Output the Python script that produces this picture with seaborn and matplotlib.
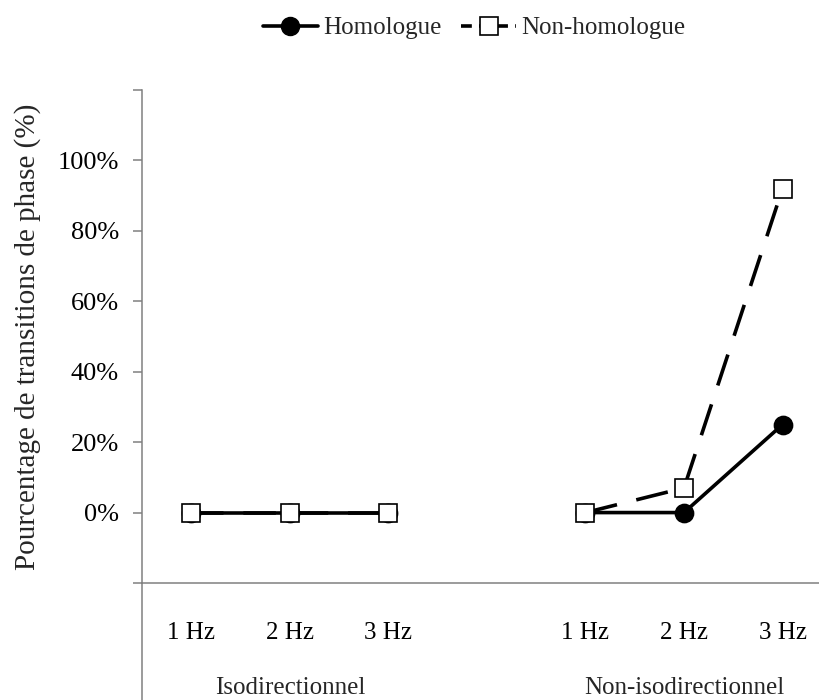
import matplotlib
matplotlib.use("Agg")
from matplotlib import pyplot as plt
from matplotlib.lines import Line2D
import seaborn as sns
import pandas as pd
import numpy as np

# values (percent)
conditions = ["Isodirectionnel", "Non-isodirectionnel"]
freqs = ["1 Hz", "2 Hz", "3 Hz"]
homologue = {"Isodirectionnel": [0, 0, 0], "Non-isodirectionnel": [0, 0, 25]}
non_homologue = {"Isodirectionnel": [0, 0, 0], "Non-isodirectionnel": [0, 7, 92]}

# x positions: a gap of one slot between the two conditions
xpos = {"Isodirectionnel": [0, 1, 2], "Non-isodirectionnel": [4, 5, 6]}

rows = []
for series, vals in [("Homologue", homologue), ("Non-homologue", non_homologue)]:
    for cond in conditions:
        for i, f in enumerate(freqs):
            rows.append({"series": series, "condition": cond, "freq": f,
                         "x": xpos[cond][i], "value": vals[cond][i]})
df = pd.DataFrame(rows)

sns.set_theme(style="white")
plt.rcParams["font.family"] = ["Liberation Serif", "DejaVu Serif"]
FS = 18
GREY = "#808080"

fig = plt.figure(figsize=(8.2, 7), dpi=100)
ax = fig.add_axes([142 / 820, 1 - 583 / 700, 1 - 142 / 820, (583 - 90) / 700])

styles = {"Homologue": dict(marker="o", linestyle="-", mfc="black", zorder=3),
          "Non-homologue": dict(marker="s", linestyle=(0, (9, 5.5)), mfc="white", zorder=4)}

for series in ["Homologue", "Non-homologue"]:
    st = styles[series]
    for cond in conditions:
        sub = df[(df.series == series) & (df.condition == cond)]
        sns.lineplot(data=sub, x="x", y="value", ax=ax, color="black", linewidth=2.6,
                     linestyle=st["linestyle"], marker=st["marker"], markersize=13,
                     markerfacecolor=st["mfc"], markeredgecolor="black",
                     markeredgewidth=1.2, zorder=st["zorder"], legend=False)

ax.set_xlim(-0.5, 6.38)
ax.set_ylim(-20, 120)
ax.set_yticks(np.arange(-20, 121, 20))
ax.set_yticklabels(["", "0%", "20%", "40%", "60%", "80%", "100%", ""], fontsize=19)
ax.set_xticks([0, 1, 2, 4, 5, 6])
ax.set_xticklabels(freqs * 2, fontsize=FS)
ax.tick_params(axis="x", length=0, pad=28, colors="black")
ax.tick_params(axis="y", left=True, length=6.5, width=1.1, color=GREY, pad=10, labelcolor="black")

for s in ["top", "right"]:
    ax.spines[s].set_visible(False)
for s in ["left", "bottom"]:
    ax.spines[s].set_color(GREY)
    ax.spines[s].set_linewidth(1.1)

ax.set_xlabel("")
ax.set_ylabel("Pourcentage de transitions de phase (%)", fontsize=21, labelpad=12)

# group labels under the frequencies
trans = matplotlib.transforms.blended_transform_factory(ax.transData, fig.transFigure)
ax.text(1, 1 - 688 / 700, "Isodirectionnel", transform=trans, ha="center", va="center", fontsize=FS)
ax.text(5, 1 - 688 / 700, "Non-isodirectionnel", transform=trans, ha="center", va="center", fontsize=FS)

# y axis line continues down through the category labels
fig.add_artist(Line2D([142 / 820, 142 / 820], [0, 1 - 583 / 700], color=GREY, linewidth=1.1))

handles = [Line2D([], [], color="black", linewidth=2.6, marker="o", markersize=13,
                  markerfacecolor="black", markeredgecolor="black"),
           Line2D([], [], color="black", linewidth=2.6, linestyle=(0, (3, 2)), marker="s",
                  markersize=13, markerfacecolor="white", markeredgecolor="black", markeredgewidth=1.2)]
fig.legend(handles, ["Homologue", "Non-homologue"], loc="center", ncol=2,
           bbox_to_anchor=(474 / 820, 1 - 28 / 700), frameon=False, fontsize=FS,
           handlelength=2.2, handletextpad=0.2, columnspacing=0.8)

plt.savefig("out.png", dpi=100)
